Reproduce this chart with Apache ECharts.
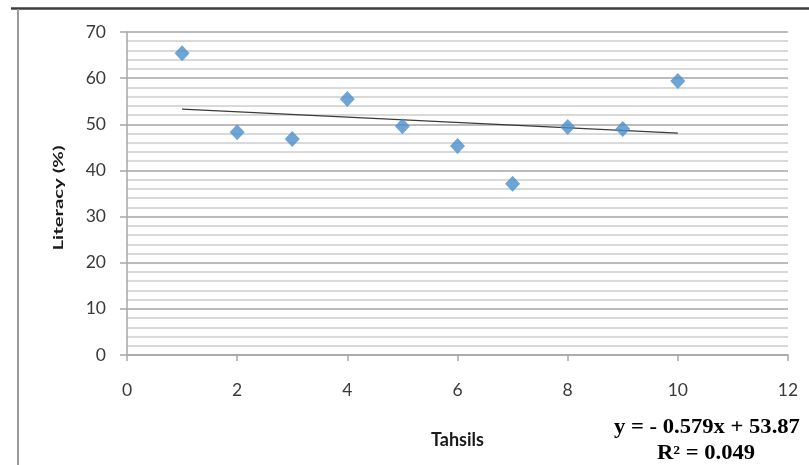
<!DOCTYPE html>
<html>
<head>
<meta charset="utf-8">
<script src="https://cdn.jsdelivr.net/npm/echarts@6/dist/echarts.min.js"></script>
<style>
html,body{margin:0;padding:0;background:#fff;}
#chart{width:809px;height:465px;}
</style>
</head>
<body>
<div id="chart"></div>
<script>
// Data
const tahsils = [1, 2, 3, 4, 5, 6, 7, 8, 9, 10];
const literacy = [65.4, 48.3, 46.8, 55.5, 49.6, 45.3, 37.1, 49.4, 49.0, 59.4];
const trendSlope = [-0.579];
const trendIntercept = [53.87];
const trendR2 = [0.049];
const xTicks = [0, 2, 4, 6, 8, 10, 12];
const yTicks = [0, 10, 20, 30, 40, 50, 60, 70];
const xTitle = 'Tahsils';
const yTitle = 'Literacy (%)';

const points = tahsils.map((x, i) => [x, literacy[i]]);
const xs = [Math.min(...tahsils), Math.max(...tahsils)];
const trend = xs.map(x => [x, trendSlope[0] * x + trendIntercept[0]]);

const chart = echarts.init(document.getElementById('chart'), null, {renderer: 'canvas'});
const labelFont = 'Lato, "Open Sans", sans-serif';
const serif = '"Liberation Serif", "DejaVu Serif", serif';
chart.setOption({
  animation: false,
  backgroundColor: '#ffffff',
  grid: {left: 127, right: 21, top: 32, bottom: 110, containLabel: false},
  xAxis: {
    type: 'value', min: xTicks[0], max: xTicks[xTicks.length - 1], interval: 2,
    axisLine: {show: true, lineStyle: {color: '#a6a6a6', width: 1.5}},
    axisTick: {show: true, inside: false, length: 6, lineStyle: {color: '#a6a6a6', width: 1.5}},
    axisLabel: {margin: 26, color: '#3a3a3a', fontSize: 17.5, fontFamily: labelFont},
    splitLine: {show: false},
    name: xTitle, nameLocation: 'middle', nameGap: 76,
    nameTextStyle: {color: '#1a1a1a', fontSize: 18, fontWeight: 'bold', fontFamily: labelFont}
  },
  yAxis: {
    type: 'value', min: yTicks[0], max: yTicks[yTicks.length - 1], interval: 10,
    axisLine: {show: true, lineStyle: {color: '#a6a6a6', width: 1.5}},
    axisTick: {show: true, inside: false, length: 7, lineStyle: {color: '#a6a6a6', width: 1.5}},
    axisLabel: {margin: 21, color: '#3a3a3a', fontSize: 17.5, fontFamily: labelFont},
    splitLine: {show: true, lineStyle: {color: '#a6a6a6', width: 1.5}},
    minorTick: {show: false, splitNumber: 5},
    minorSplitLine: {show: true, lineStyle: {color: '#cdcdcd', width: 1.5}}
  },
  series: [
    {
      type: 'line', data: trend, showSymbol: false, symbol: 'none',
      lineStyle: {color: '#3a3a3a', width: 1.3}, z: 2, silent: true
    },
    {
      type: 'scatter', data: points, symbol: 'diamond', symbolSize: [15, 16],
      itemStyle: {color: '#4a8fca'}, z: 3
    }
  ],
  graphic: [
    {type: 'line', shape: {x1: 11, y1: 8.5, x2: 809, y2: 8.5}, style: {stroke: '#3c3c3c', lineWidth: 2.5}},
    {type: 'line', shape: {x1: 18, y1: 9, x2: 18, y2: 465}, style: {stroke: '#9a9a9a', lineWidth: 2}},
    {type: 'text', x: 58, y: 198, rotation: Math.PI / 2, scaleX: 1.45, style: {
      text: yTitle, align: 'center', verticalAlign: 'middle',
      font: 'bold 14px ' + labelFont, fill: '#1a1a1a'}},
    {type: 'text', x: 707, y: 428, scaleX: 1.13, style: {
      text: 'y = - ' + Math.abs(trendSlope[0]).toFixed(3) + 'x + ' + trendIntercept[0].toFixed(2),
      align: 'center', verticalAlign: 'middle',
      font: 'bold 20px ' + serif, fill: '#000'}},
    {type: 'text', x: 706, y: 454, scaleX: 1.13, style: {
      text: 'R² = ' + trendR2[0].toFixed(3),
      align: 'center', verticalAlign: 'middle',
      font: 'bold 20px ' + serif, fill: '#000'}}
  ]
});
</script>
</body>
</html>
